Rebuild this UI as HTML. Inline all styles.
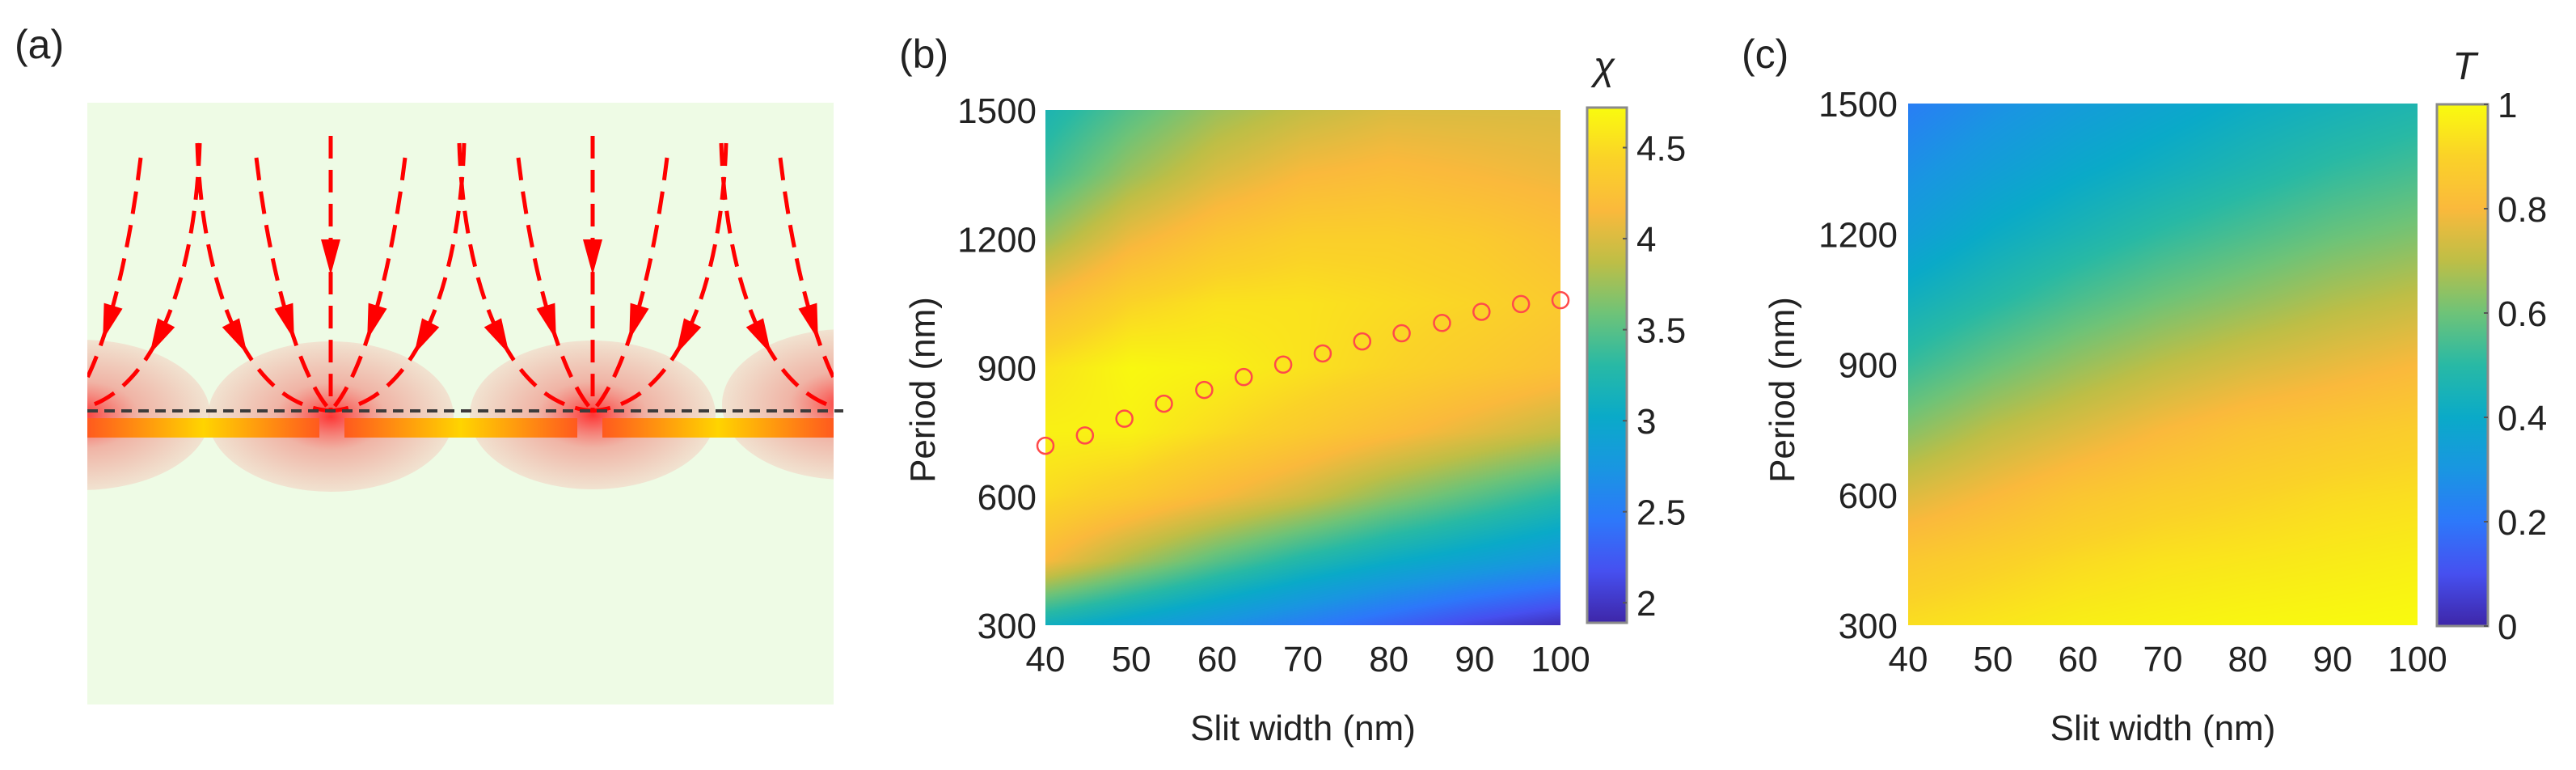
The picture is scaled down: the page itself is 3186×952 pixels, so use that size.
<!DOCTYPE html>
<html><head><meta charset="utf-8">
<style>
html,body{margin:0;padding:0;background:#fff;}
#root{position:relative;width:3186px;height:952px;overflow:hidden;font-family:"Liberation Sans",sans-serif;}
canvas{position:absolute;}
svg{position:absolute;left:0;top:0;}
</style></head>
<body>
<div id="root">
<canvas id="hmB"></canvas>
<canvas id="hmC"></canvas>
<svg id="svg" width="3186" height="952" xmlns="http://www.w3.org/2000/svg">
<defs>
<radialGradient id="glow" cx="50%" cy="50%" r="50%">
<stop offset="0" stop-color="#ff2a2a" stop-opacity="0.95"/>
<stop offset="0.45" stop-color="#f27a72" stop-opacity="0.55"/>
<stop offset="1" stop-color="#f3cfc0" stop-opacity="0.55"/>
</radialGradient>
<linearGradient id="barGrad" x1="0" x2="1" y1="0" y2="0">
<stop offset="0" stop-color="#ff5a1e"/>
<stop offset="0.5" stop-color="#ffd400"/>
<stop offset="1" stop-color="#ff5a1e"/>
</linearGradient>
<clipPath id="boxClip"><rect x="108" y="127" width="923" height="744"/></clipPath>
</defs>
<g id="panelA"></g>
<g id="panelB"></g>
<g id="panelC"></g>
</svg>
</div>
<script>
// ---------- data ----------
const slitWidths = [40, 50, 60, 70, 80, 90, 100];
const periods = [1500, 1350, 1200, 1050, 900, 750, 600, 450, 300];
const chiValues = [
 [3.2, 3.5, 3.75, 3.9, 4.0, 4.0, 4.0],
 [3.4, 3.75, 4.0, 4.15, 4.2, 4.15, 4.1],
 [3.75, 4.1, 4.3, 4.4, 4.4, 4.35, 4.25],
 [4.2, 4.45, 4.55, 4.55, 4.5, 4.45, 4.35],
 [4.55, 4.7, 4.65, 4.55, 4.45, 4.35, 4.25],
 [4.65, 4.65, 4.5, 4.35, 4.2, 4.05, 3.9],
 [4.5, 4.35, 4.15, 3.95, 3.7, 3.5, 3.3],
 [4.15, 3.8, 3.5, 3.25, 3.05, 2.9, 2.75],
 [3.1, 2.9, 2.7, 2.5, 2.3, 2.1, 1.95]
];
const tValues = [
 [0.22, 0.28, 0.33, 0.37, 0.41, 0.44, 0.47],
 [0.28, 0.34, 0.39, 0.43, 0.47, 0.51, 0.54],
 [0.34, 0.41, 0.46, 0.51, 0.55, 0.59, 0.62],
 [0.43, 0.49, 0.55, 0.60, 0.64, 0.68, 0.71],
 [0.52, 0.59, 0.65, 0.70, 0.74, 0.77, 0.80],
 [0.63, 0.70, 0.75, 0.80, 0.84, 0.86, 0.88],
 [0.75, 0.80, 0.85, 0.88, 0.90, 0.92, 0.93],
 [0.86, 0.89, 0.92, 0.94, 0.95, 0.96, 0.97],
 [0.93, 0.95, 0.97, 0.98, 0.99, 0.995, 1.0]
];
const optWidths = [40, 44.6, 49.2, 53.8, 58.5, 63.1, 67.7, 72.3, 76.9, 81.5, 86.2, 90.8, 95.4, 100];
const optPeriods = [718, 742, 781, 816, 848, 878, 907, 933, 961, 980, 1004, 1030, 1048, 1057];
const xTicks = [40, 50, 60, 70, 80, 90, 100];
const yTicks = [300, 600, 900, 1200, 1500];
const chiTicks = [2, 2.5, 3, 3.5, 4, 4.5];
const chiTickLabels = ["2", "2.5", "3", "3.5", "4", "4.5"];
const tTicks = [0, 0.2, 0.4, 0.6, 0.8, 1];
const tTickLabels = ["0", "0.2", "0.4", "0.6", "0.8", "1"];

const NS = "http://www.w3.org/2000/svg";
const parula = [[62,38,168],[70,80,240],[45,120,250],[25,150,225],[10,170,200],[40,185,165],[110,195,120],[190,190,70],[250,185,60],[250,210,40],[249,251,14]];
function cmap(t){
  t = Math.max(0, Math.min(1, t));
  const p = t*(parula.length-1), i = Math.min(parula.length-2, Math.floor(p)), f = p-i;
  const a = parula[i], b = parula[i+1];
  return [a[0]+(b[0]-a[0])*f, a[1]+(b[1]-a[1])*f, a[2]+(b[2]-a[2])*f];
}
function el(tag, attrs, parent){
  const e = document.createElementNS(NS, tag);
  for (const k in attrs) e.setAttribute(k, attrs[k]);
  parent.appendChild(e);
  return e;
}
function txt(parent, x, y, s, opts){
  const t = el("text", {x:x, y:y, "font-size":opts.size||44, "text-anchor":opts.anchor||"middle", fill:"#222", "font-family":"Liberation Sans, sans-serif"}, parent);
  if (opts.italic) t.setAttribute("font-style", "italic");
  if (opts.rotate) t.setAttribute("transform", "rotate(-90 " + x + " " + y + ")");
  t.textContent = s;
  return t;
}

function makeChart(cfg){
  const g = document.getElementById(cfg.groupId);
  const xS = v => cfg.x0 + (v-40)/(100-40)*(cfg.x1-cfg.x0);
  const yS = v => cfg.y1 - (v-300)/(1500-300)*(cfg.y1-cfg.y0);
  const cS = v => cfg.cb1 - (v-cfg.vmin)/(cfg.vmax-cfg.vmin)*(cfg.cb1-cfg.cb0);
  const cv = document.getElementById(cfg.canvasId);
  const W = Math.round(cfg.x1-cfg.x0), H = Math.round(cfg.y1-cfg.y0);
  cv.width = W; cv.height = H;
  cv.style.left = xS(40)+"px"; cv.style.top = yS(1500)+"px";
  const ctx = cv.getContext("2d");
  const img = ctx.createImageData(W, H);
  const vals = cfg.values;
  for (let py=0; py<H; py++){
    const per = 1500 - (py+0.5)/H*1200;
    let r = 0; while (r < periods.length-2 && periods[r+1] > per) r++;
    const fy = (periods[r]-per)/(periods[r]-periods[r+1]);
    for (let px=0; px<W; px++){
      const w = 40 + (px+0.5)/W*60;
      let c = 0; while (c < slitWidths.length-2 && slitWidths[c+1] < w) c++;
      const fx = (w-slitWidths[c])/(slitWidths[c+1]-slitWidths[c]);
      const v = (vals[r][c]*(1-fx)+vals[r][c+1]*fx)*(1-fy) + (vals[r+1][c]*(1-fx)+vals[r+1][c+1]*fx)*fy;
      const col = cmap((v-cfg.vmin)/(cfg.vmax-cfg.vmin));
      const k = (py*W+px)*4;
      img.data[k]=col[0]; img.data[k+1]=col[1]; img.data[k+2]=col[2]; img.data[k+3]=255;
    }
  }
  ctx.putImageData(img, 0, 0);
  const gradId = cfg.groupId + "-cbgrad";
  const defs = document.querySelector("defs");
  const lg = el("linearGradient", {id:gradId, x1:"0", x2:"0", y1:"1", y2:"0"}, defs);
  for (let i=0;i<=20;i++){
    const c = cmap(i/20);
    el("stop", {offset:i/20, "stop-color":"rgb("+c.map(Math.round).join(",")+")"}, lg);
  }
  const cb = el("rect", {x:cfg.cbx0, y:cS(cfg.vmax), width:cfg.cbx1-cfg.cbx0, height:cS(cfg.vmin)-cS(cfg.vmax), fill:"url(#"+gradId+")", stroke:"#8a8a8a", "stroke-width":3}, g);
  
  
  cfg.cTicks.forEach((v,i)=>{
    const tk = el("line", {x1:cfg.cbx1-5, x2:cfg.cbx1, y1:cS(v), y2:cS(v), stroke:"#555", "stroke-width":2}, g);
    
    
    const t = txt(g, cfg.cbx1+12, cS(v)+16, cfg.cTickLabels[i], {anchor:"start"});
    
    
  });
  const cl = txt(g, cfg.cbLabelX, 98, cfg.cbLabel, {italic:true, size:48});
  
  
  xTicks.forEach(v=>{
    const t = txt(g, xS(v), 830, String(v), {});
    
    
  });
  yTicks.forEach(v=>{
    const t = txt(g, cfg.yLabelRight, yS(v)+16, String(v), {anchor:"end"});
    
    
  });
  const xt = txt(g, (cfg.x0+cfg.x1)/2, 915, "Slit width (nm)", {});
  
  
  const yt = txt(g, cfg.yTitleX, 482, "Period (nm)", {rotate:true});
  
  
  const pl = txt(g, cfg.labelX, 84, cfg.label, {anchor:"start", size:50});
  
  
  return {xS, yS, g};
}

const chB = makeChart({groupId:"panelB", canvasId:"hmB", x0:1293, x1:1930, y0:136, y1:773,
  values:chiValues, vmin:1.89, vmax:4.72, cbx0:1963, cbx1:2012, cb0:133, cb1:770,
  cTicks:chiTicks, cTickLabels:chiTickLabels, cbLabel:"\u03C7", cbLabelX:1984,
  yLabelRight:1282, yTitleX:1156, labelX:1112, label:"(b)"});
optWidths.forEach((w,i)=>{
  const c = el("circle", {cx:chB.xS(w), cy:chB.yS(optPeriods[i]), r:10, fill:"none", stroke:"#ff4a4a", "stroke-width":2.5}, chB.g);
  
  
});

makeChart({groupId:"panelC", canvasId:"hmC", x0:2360, x1:2990, y0:128, y1:773,
  values:tValues, vmin:0, vmax:1, cbx0:3014, cbx1:3077, cb0:129, cb1:774,
  cTicks:tTicks, cTickLabels:tTickLabels, cbLabel:"T", cbLabelX:3048,
  yLabelRight:2347, yTitleX:2219, labelX:2154, label:"(c)"});

// ---------- panel (a) schematic ----------
(function(){
  const g = document.getElementById("panelA");
  const lab = txt(g, 18, 72, "(a)", {anchor:"start", size:50});
  
  
  const bg = el("rect", {x:108, y:127, width:923, height:744, fill:"#eefbe5"}, g);
  
  
  const clip = el("g", {"clip-path":"url(#boxClip)"}, g);
  const glows = [[100,513,160,93],[409,515,152,93],[733,513,152,92],[1045,500,152,93]];
  glows.forEach(a=>{
    const e = el("ellipse", {cx:a[0], cy:a[1], rx:a[2], ry:a[3], fill:"url(#glow)"}, clip);
    
    
  });
  const bars = [[108,395],[426,714],[745,1031]];
  bars.forEach(b=>{
    const r = el("rect", {x:b[0], y:517, width:b[1]-b[0], height:24, fill:"url(#barGrad)"}, clip);
    
    
  });
  const dl = el("line", {x1:108, x2:1043, y1:508, y2:508, stroke:"#3c3c3c", "stroke-width":4, "stroke-dasharray":"13 8"}, g);
  
  
  const slits = [82, 409, 733, 1057];
  function bez(p, t){
    const u=1-t;
    return [u*u*u*p[0][0]+3*u*u*t*p[1][0]+3*u*t*t*p[2][0]+t*t*t*p[3][0],
            u*u*u*p[0][1]+3*u*u*t*p[1][1]+3*u*t*t*p[2][1]+t*t*t*p[3][1]];
  }
  function arrow(p, tHead){
    const d = "M"+p[0]+" C"+p[1]+" "+p[2]+" "+p[3];
    const path = el("path", {d:d, fill:"none", stroke:"#ff0000", "stroke-width":5, "stroke-dasharray":"28 14"}, clip);
    
    
    const a = bez(p, tHead), b = bez(p, tHead+0.01);
    const ang = Math.atan2(b[1]-a[1], b[0]-a[0]);
    const L=44, Wd=12;
    const tip=[a[0]+Math.cos(ang)*L/2, a[1]+Math.sin(ang)*L/2];
    const back=[a[0]-Math.cos(ang)*L/2, a[1]-Math.sin(ang)*L/2];
    const nx=-Math.sin(ang), ny=Math.cos(ang);
    const head = el("polygon", {points: tip.join(",")+" "+(back[0]+nx*Wd)+","+(back[1]+ny*Wd)+" "+(back[0]-nx*Wd)+","+(back[1]-ny*Wd), fill:"#ff0000"}, clip);
    
    
  }
  slits.forEach(S=>{
    if (S>200 && S<1000) arrow([[S,168],[S,280],[S,420],[S,508]], 0.42);
    [-1,1].forEach(d=>{
      arrow([[S+d*92,195],[S+d*72,360],[S+d*35,470],[S,508]], 0.5);
      arrow([[S+d*165,177],[S+d*160,340],[S+d*110,500],[S,508]], 0.55);
    });
  });
})();
</script>
</body></html>
